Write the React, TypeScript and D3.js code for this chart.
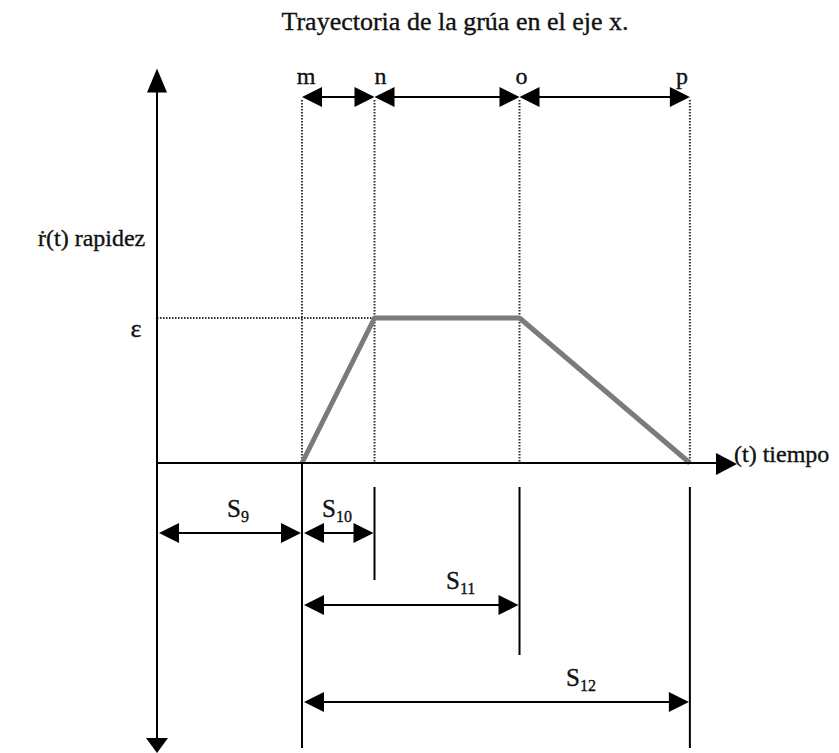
import React from "react";
import * as d3 from "d3";

// ---- data ----
const titleText = "Trayectoria de la grúa en el eje x.";
const phaseLabels = ["m", "n", "o", "p"];
const phaseTimes = [2.0, 3.0, 5.0, 7.35];
const speedValues = [0, 1, 1, 0];
const epsilonLabel = "ε";
const yAxisLabel = "ṙ(t) rapidez";
const xAxisLabel = "(t) tiempo";
const dimBase = ["S", "S", "S", "S"];
const dimSubs = ["9", "10", "11", "12"];
const dimStart = [0, 2.0, 2.0, 2.0];
const dimEnd = [2.0, 3.0, 5.0, 7.35];

// ---- layout ----
const W = 839;
const H = 753;
const xAxisEnd = 8.0;
const yTop = 2.72;
const yBottom = -2.0;
const dimRowY = [533, 533, 605, 702];
const dimLabelX = [227, 322, 446, 566];
const bottomTickEnd = [748, 580, 655, 748];
const topArrowY = 97;
const FONT = "'Liberation Serif', 'Times New Roman', serif";

export default function App() {
  const x = d3.scaleLinear().domain([0, 8]).range([157, 737]);
  const y = d3.scaleLinear().domain([0, 1]).range([463, 318]);
  const x0 = x(0);
  const y0 = y(0);

  const line = d3
    .line<number>()
    .x((_, i) => x(phaseTimes[i]))
    .y((d) => y(d));

  const arrowR = (tipX: number, cy: number, len = 20, hh = 10) =>
    `M${tipX},${cy}L${tipX - len},${cy - hh}L${tipX - len},${cy + hh}Z`;
  const arrowL = (tipX: number, cy: number, len = 20, hh = 10) =>
    `M${tipX},${cy}L${tipX + len},${cy - hh}L${tipX + len},${cy + hh}Z`;

  const dotted = { stroke: "#333", strokeWidth: 2, strokeDasharray: "1.5,1.5" };
  const txt = { fill: "#111", stroke: "#111", strokeWidth: 0.35 };

  return (
    <svg
      width={W}
      height={H}
      style={{ position: "absolute", left: 0, top: 0, background: "#fff" }}
      fontFamily={FONT}
    >
      <rect width={W} height={H} fill="#fff" />
      {/* title */}
      <text x={455} y={30} fontSize={26} textAnchor="middle" {...txt}>
        {titleText}
      </text>

      {/* dotted verticals */}
      {phaseTimes.map((t, i) => (
        <line key={"dv" + i} x1={x(t)} x2={x(t)} y1={topArrowY + 3} y2={y0} {...dotted} />
      ))}
      {/* epsilon dotted horizontal */}
      <line x1={x0} x2={x(phaseTimes[1])} y1={y(1)} y2={y(1)} {...dotted} />

      {/* speed profile */}
      <path d={line(speedValues) || ""} fill="none" stroke="#7b7b7b" strokeWidth={5} strokeLinejoin="round" />

      {/* y axis */}
      <line x1={x0} x2={x0} y1={y(yTop) + 20} y2={y(yBottom) - 12} stroke="#000" strokeWidth={2} />
      <path d={`M${x0},${y(yTop)}L${x0 - 10},${y(yTop) + 24}L${x0 + 10},${y(yTop) + 24}Z`} fill="#000" />
      <path d={`M${x0},${y(yBottom)}L${x0 - 11},${y(yBottom) - 15}L${x0 + 11},${y(yBottom) - 15}Z`} fill="#000" />

      {/* x axis */}
      <line x1={x0} x2={x(xAxisEnd) - 18} y1={y0} y2={y0} stroke="#000" strokeWidth={2} />
      <path d={arrowR(x(xAxisEnd), y0 + 1, 21, 11)} fill="#000" />

      {/* top phase arrows */}
      {phaseTimes.slice(0, -1).map((t, i) => {
        const a = x(t);
        const b = x(phaseTimes[i + 1]);
        return (
          <g key={"ta" + i}>
            <line x1={a + 10} x2={b - 10} y1={topArrowY} y2={topArrowY} stroke="#000" strokeWidth={2} />
            <path d={arrowL(a, topArrowY)} fill="#000" />
            <path d={arrowR(b, topArrowY)} fill="#000" />
          </g>
        );
      })}
      {phaseLabels.map((l, i) => (
        <text
          key={"pl" + i}
          x={x(phaseTimes[i]) + [4, 6, 2, -8][i]}
          y={84}
          fontSize={24}
          textAnchor="middle"
          {...txt}
        >
          {l}
        </text>
      ))}

      {/* axis labels */}
      <text x={38} y={246} fontSize={24} {...txt}>
        {yAxisLabel}
      </text>
      <text x={x(xAxisEnd) - 3} y={462} fontSize={24} {...txt}>
        {xAxisLabel}
      </text>
      <text x={136} y={337} fontSize={26} textAnchor="middle" {...txt}>
        {epsilonLabel}
      </text>

      {/* bottom verticals */}
      {phaseTimes.map((t, i) => (
        <line
          key={"bv" + i}
          x1={x(t)}
          x2={x(t)}
          y1={i === 0 ? y0 : 487}
          y2={bottomTickEnd[i]}
          stroke="#000"
          strokeWidth={2}
        />
      ))}

      {/* dimension arrows */}
      {dimSubs.map((s, i) => {
        const a = x(dimStart[i]);
        const b = x(dimEnd[i]);
        const cy = dimRowY[i];
        return (
          <g key={"dim" + i}>
            <line x1={a + 10} x2={b - 10} y1={cy} y2={cy} stroke="#000" strokeWidth={2} />
            <path d={arrowL(a + 2, cy)} fill="#000" />
            <path d={arrowR(b - 1, cy)} fill="#000" />
            <text x={dimLabelX[i]} y={cy - 16} fontSize={25} {...txt}>
              {dimBase[i]}
              <tspan fontSize={16} dy={5}>
                {s}
              </tspan>
            </text>
          </g>
        );
      })}
    </svg>
  );
}
